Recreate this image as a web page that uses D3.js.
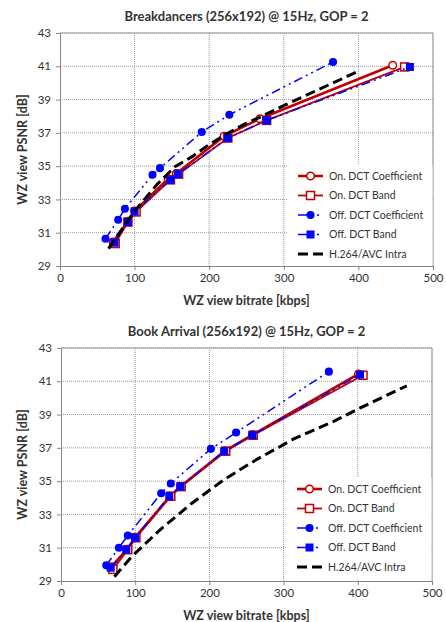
<!DOCTYPE html>
<html>
<head>
<meta charset="utf-8">
<script src="https://cdn.jsdelivr.net/npm/d3@7"></script>
<style>
  body { margin: 0; background: #fff; }
  text { font-family: Lato, "Open Sans", sans-serif; fill: #333; }
</style>
</head>
<body>
<svg id="chart" width="446" height="622"></svg>
<script>
var xTicks = [0, 100, 200, 300, 400, 500];
var yTicks = [29, 31, 33, 35, 37, 39, 41, 43];
var seriesNames = ["On. DCT Coefficient", "On. DCT Band", "Off. DCT Coefficient", "Off. DCT Band", "H.264/AVC Intra"];

// Breakdancers
var bdOnCoefRate = [71, 91, 100, 145, 156, 220, 268, 446];
var bdOnCoefPsnr = [30.44, 31.68, 32.3, 34.24, 34.56, 36.8, 37.85, 41.06];
var bdOnBandRate = [74, 91, 102, 148, 159, 225, 277, 462];
var bdOnBandPsnr = [30.35, 31.64, 32.25, 34.18, 34.52, 36.69, 37.75, 40.96];
var bdOffCoefRate = [61, 78, 87, 124, 134, 190, 227, 366];
var bdOffCoefPsnr = [30.64, 31.78, 32.44, 34.48, 34.88, 37.05, 38.09, 41.26];
var bdOffBandRate = [73, 91, 100, 148, 158, 225, 277, 469];
var bdOffBandPsnr = [30.4, 31.64, 32.28, 34.16, 34.52, 36.69, 37.75, 40.96];
var bdH264Rate = [65, 100, 130, 154, 177, 199, 223, 248, 270, 297, 400];
var bdH264Psnr = [30.05, 32.3, 33.9, 34.96, 35.57, 36.27, 36.93, 37.54, 37.98, 38.58, 40.7];

// Book Arrival
var baOnCoefRate = [68, 89, 100, 147, 161, 221, 258, 401];
var baOnCoefPsnr = [29.86, 30.9, 31.62, 34.1, 34.68, 36.82, 37.78, 41.44];
var baOnBandRate = [70, 90, 101, 148, 162, 222, 259, 407];
var baOnBandPsnr = [29.7, 30.88, 31.6, 34.09, 34.67, 36.8, 37.76, 41.36];
var baOffCoefRate = [61, 78, 90, 135, 148, 202, 236, 361];
var baOffCoefPsnr = [29.94, 31.0, 31.73, 34.27, 34.86, 36.94, 37.92, 41.58];
var baOffBandRate = [67, 88, 100, 146, 161, 220, 258, 403];
var baOffBandPsnr = [29.8, 30.88, 31.6, 34.09, 34.67, 36.8, 37.76, 41.4];
var baH264Rate = [72, 95, 133, 176, 219, 264, 313, 367, 407, 466];
var baH264Psnr = [29.26, 30.45, 32.06, 33.66, 35.07, 36.31, 37.52, 38.58, 39.48, 40.73];

var RED = "#c00000", BLUE = "#0000ff";

// style per series, in legend order
var styles = [
  { color: RED, width: 2.6, dash: null, marker: "circle", size: 3.8, fill: "#fff" },
  { color: RED, width: 1.8, dash: null, marker: "square", size: 8, fill: "#fff" },
  { color: BLUE, width: 1.5, dash: "9,4,2,4,2,4", marker: "circle", size: 3.3, fill: BLUE },
  { color: BLUE, width: 1.5, dash: "9,4,2,4,2,4", marker: "square", size: 6.5, fill: BLUE },
  { color: "#000", width: 3, dash: "10,5", marker: null }
];

function zip(xs, ys) {
  return xs.map(function(x, i) { return { x: x, y: ys[i] }; });
}

function drawMarker(sel, st) {
  if (st.marker === "circle") {
    sel.append("circle").attr("r", st.size)
      .attr("fill", st.fill).attr("stroke", st.color).attr("stroke-width", 1.5);
  } else if (st.marker === "square") {
    sel.append("rect").attr("x", -st.size / 2).attr("y", -st.size / 2)
      .attr("width", st.size).attr("height", st.size)
      .attr("fill", st.fill).attr("stroke", st.color).attr("stroke-width", 1.5);
  }
}

function drawPanel(svg, box, title, series) {
  var x = d3.scaleLinear().domain([0, 500]).range([box.left, box.right]);
  var y = d3.scaleLinear().domain([29, 43]).range([box.bottom, box.top]);
  var g = svg.append("g");

  // grid
  g.selectAll(".vgrid").data(xTicks.slice(1)).enter().append("line")
    .attr("x1", function(d) { return x(d); }).attr("x2", function(d) { return x(d); })
    .attr("y1", box.top).attr("y2", box.bottom)
    .attr("stroke", "#999").attr("stroke-dasharray", "1,1");
  g.selectAll(".hgrid").data(yTicks.slice(1)).enter().append("line")
    .attr("x1", box.left).attr("x2", box.right)
    .attr("y1", function(d) { return y(d); }).attr("y2", function(d) { return y(d); })
    .attr("stroke", "#999").attr("stroke-dasharray", "1,1");

  // plot border top/right
  g.append("path")
    .attr("d", "M" + box.left + "," + box.top + "H" + box.right + "V" + box.bottom)
    .attr("fill", "none").attr("stroke", "#999");

  // axes
  var xAxis = d3.axisBottom(x).tickValues(xTicks).tickSize(4).tickPadding(4);
  var yAxis = d3.axisLeft(y).tickValues(yTicks).tickSize(4).tickPadding(5);
  var gx = g.append("g").attr("transform", "translate(0," + box.bottom + ")").call(xAxis);
  var gy = g.append("g").attr("transform", "translate(" + box.left + ",0)").call(yAxis);
  [gx, gy].forEach(function(a) {
    a.select(".domain").attr("stroke", "#868686");
    a.selectAll(".tick line").attr("stroke", "#868686");
    a.selectAll(".tick text").attr("font-size", 11.5).attr("fill", "#333")
      .style("font-family", "Lato, sans-serif");
  });

  // legend background
  var lg = g.append("g").attr("transform", "translate(" + box.legendX + "," + box.legendY + ")");
  lg.append("rect").attr("x", 0).attr("y", 0)
    .attr("width", box.right - box.legendX - 0.5).attr("height", box.bottom - box.legendY - 0.5)
    .attr("fill", "#fff");

  // series
  var line = d3.line().x(function(d) { return x(d.x); }).y(function(d) { return y(d.y); });
  series.forEach(function(s, i) {
    var st = styles[i];
    var pts = zip(s[0], s[1]);
    g.append("path").datum(pts).attr("d", line)
      .attr("fill", "none").attr("stroke", st.color).attr("stroke-width", st.width)
      .attr("stroke-dasharray", st.dash);
    if (st.marker) {
      g.selectAll(null).data(pts).enter().append("g")
        .attr("transform", function(d) { return "translate(" + x(d.x) + "," + y(d.y) + ")"; })
        .each(function() { drawMarker(d3.select(this), st); });
    }
  });

  // legend entries
  seriesNames.forEach(function(name, i) {
    var st = styles[i];
    var ly = 11 + i * 19.5;
    var e = lg.append("g").attr("transform", "translate(0," + ly + ")");
    e.append("line").attr("x1", 11).attr("x2", 36).attr("y1", 0).attr("y2", 0)
      .attr("stroke", st.color).attr("stroke-width", st.width)
      .attr("stroke-dasharray", st.dash);
    if (st.marker) {
      var m = e.append("g").attr("transform", "translate(23.5,0)");
      drawMarker(m, st);
    }
    e.append("text").attr("x", 42).attr("y", 0).attr("dy", "0.35em")
      .attr("font-size", 10.5).text(name);
  });

  // titles
  svg.append("text").attr("x", (box.left + box.right) / 2).attr("y", box.top - 12)
    .attr("text-anchor", "middle").attr("font-size", 13).attr("font-weight", "bold")
    .text(title);
  svg.append("text").attr("x", (box.left + box.right) / 2).attr("y", box.bottom + 39)
    .attr("text-anchor", "middle").attr("font-size", 12.5).attr("font-weight", "bold")
    .text("WZ view bitrate [kbps]");
  svg.append("text")
    .attr("transform", "translate(" + 27 + "," + ((box.top + box.bottom) / 2) + ") rotate(-90)")
    .attr("text-anchor", "middle").attr("font-size", 12.5).attr("font-weight", "bold")
    .text("WZ view PSNR [dB]");
}

var svg = d3.select("#chart");
svg.append("rect").attr("width", 446).attr("height", 622).attr("fill", "#fff");

drawPanel(svg, { left: 60, right: 433, top: 33, bottom: 266, legendX: 287, legendY: 165 },
  "Breakdancers (256x192) @ 15Hz, GOP = 2",
  [[bdOnCoefRate, bdOnCoefPsnr], [bdOnBandRate, bdOnBandPsnr], [bdOffCoefRate, bdOffCoefPsnr],
   [bdOffBandRate, bdOffBandPsnr], [bdH264Rate, bdH264Psnr]]);

drawPanel(svg, { left: 61, right: 432, top: 348, bottom: 581, legendX: 286, legendY: 478 },
  "Book Arrival (256x192) @ 15Hz, GOP = 2",
  [[baOnCoefRate, baOnCoefPsnr], [baOnBandRate, baOnBandPsnr], [baOffCoefRate, baOffCoefPsnr],
   [baOffBandRate, baOffBandPsnr], [baH264Rate, baH264Psnr]]);
</script>
</body>
</html>
